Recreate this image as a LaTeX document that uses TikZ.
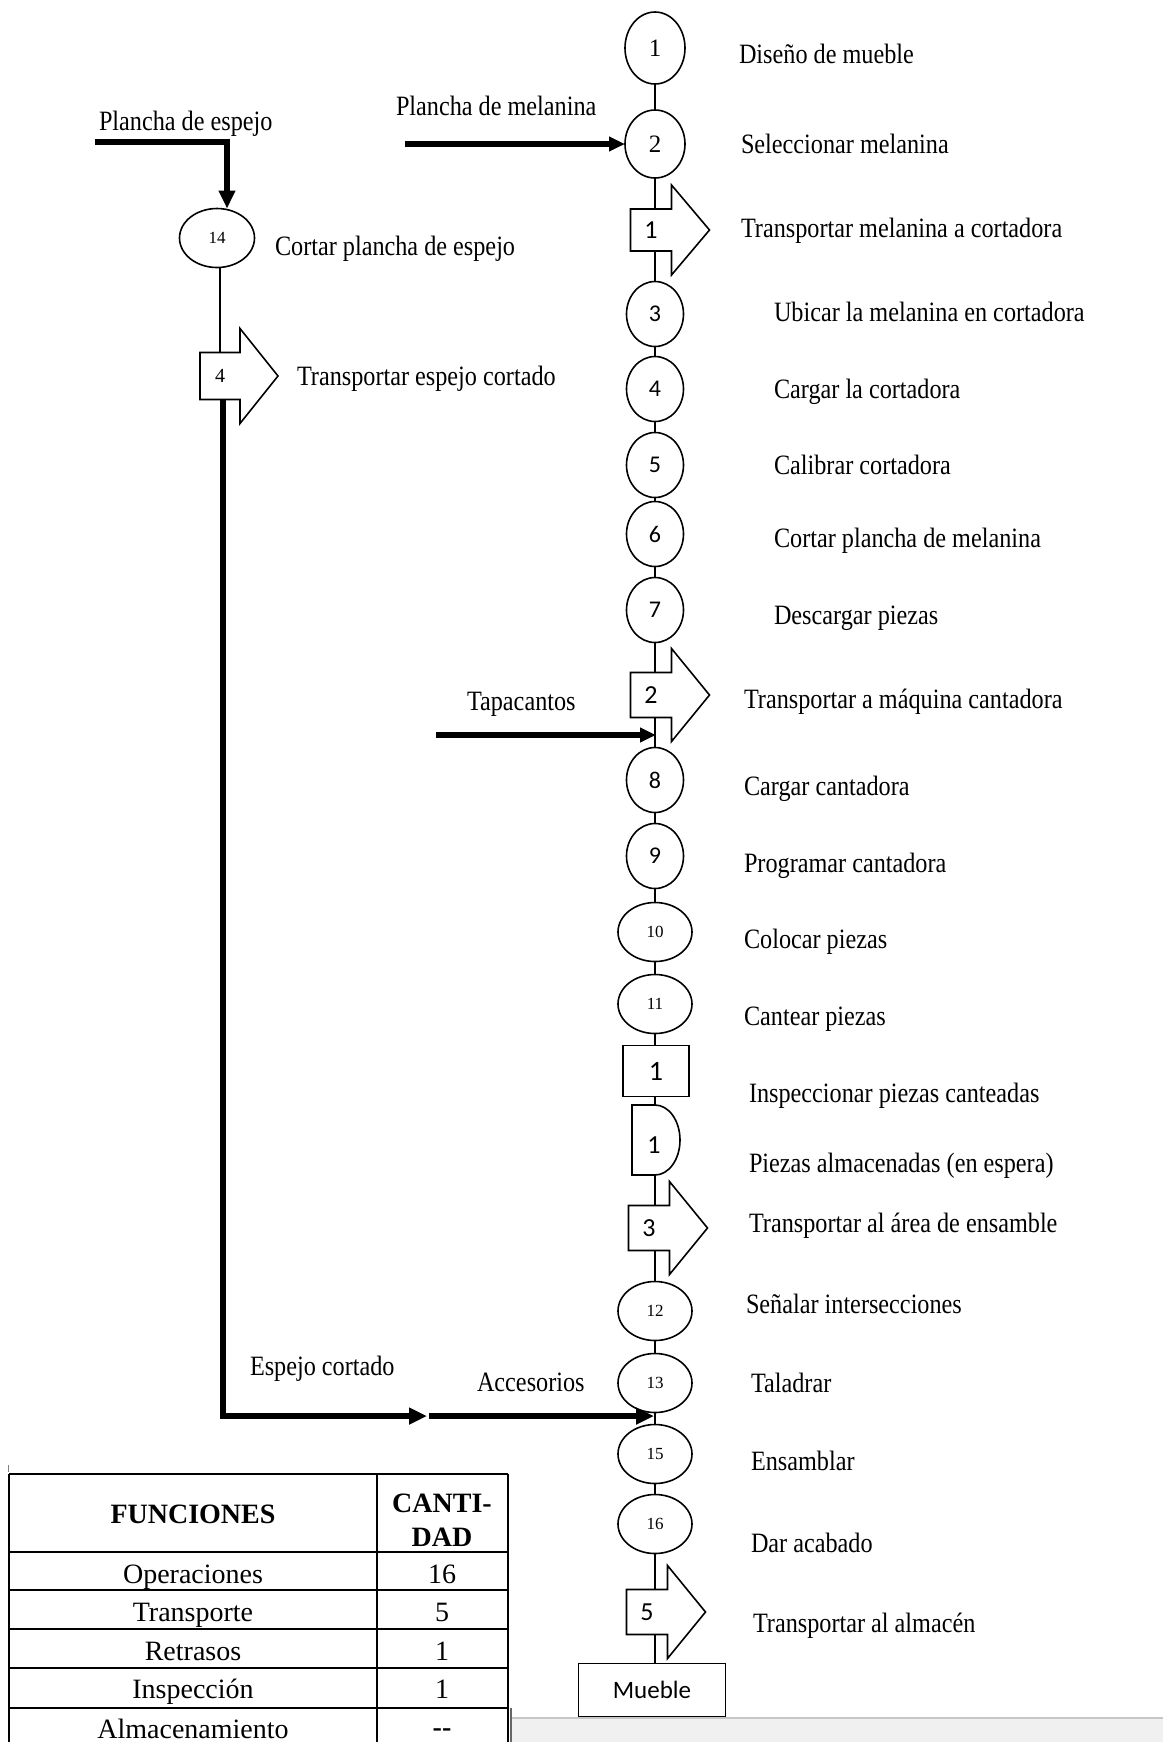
\documentclass[tikz,border=0pt]{standalone}
\usepackage{fontspec}
\setmainfont{Liberation Serif}[FakeStretch=0.865]
\newfontfamily\tabfont{Liberation Serif}
\newfontfamily\calfont{Carlito}
\usetikzlibrary{shapes.geometric,arrows.meta,calc}
\newcommand\transportoutline[1]{%
  \draw[line width=0.8pt,line join=miter]
    (#1.north west) -- (#1.north east) -- ([yshift=12pt]#1.north east) -- ([xshift=19pt]#1.east)
    -- ([yshift=-12pt]#1.south east) -- (#1.south east) -- (#1.south west) -- cycle;}
\begin{document}
\begin{tikzpicture}[x=0.5pt,y=-0.5pt,
  every node/.style={inner sep=0pt,outer sep=0pt},
  oper/.style={ellipse,draw,line width=0.8pt,fill=white,minimum width=28.5pt,minimum height=32.5pt,font=\calfont\fontsize{12}{12}\selectfont},
  operbig/.style={oper,minimum width=30pt,font=\tabfont\fontsize{12.5}{12.5}\selectfont},
  opersmall/.style={oper,minimum width=37pt,minimum height=29.5pt,font=\tabfont\fontsize{8.5}{8.5}\selectfont},
  tbody/.style={rectangle,minimum width=20.5pt,minimum height=22.5pt,font=\calfont\fontsize{13}{13}\selectfont},
  boxnode/.style={rectangle,draw,line width=0.8pt,fill=white},
  lbl/.style={anchor=base west,font=\fontsize{14}{14}\selectfont},
  tabtxt/.style={anchor=base,font=\tabfont\fontsize{14}{14}\selectfont},
  tabhead/.style={anchor=base,font=\tabfont\bfseries\fontsize{14}{14}\selectfont},
  conn/.style={line width=0.7pt},
  tabline/.style={line width=1pt},
  thickarrow/.style={line width=3pt,line join=miter,-{Triangle[length=9pt,width=8pt]}}
]
\useasboundingbox (0,0) rectangle (1163,1742);
\fill[white] (0,0) rectangle (1163,1742);

% ---------- main column ----------
\node[operbig,minimum height=36pt] (c1) at (655,48) {1};
\node[operbig,minimum height=34pt] (c2) at (655,144) {2};
\node[tbody,minimum height=21pt] (t1) at (651,230) {1};
\node[oper] (c3) at (655,314) {3};
\node[oper] (c4) at (655,389) {4};
\node[oper] (c5) at (655,465) {5};
\node[oper] (c6) at (655,534) {6};
\node[oper] (c7) at (655,610) {7};
\node[tbody] (t2) at (651,695) {2};
\node[oper] (c8) at (655,780) {8};
\node[oper] (c9) at (655,856) {9};
\node[opersmall] (c10) at (655,932) {10};
\node[opersmall] (c11) at (655,1004) {11};
\node[boxnode,minimum width=33pt,minimum height=25.5pt,font=\calfont\fontsize{14}{14}\selectfont] (insp) at (656,1071) {1};
\node[minimum width=24pt,minimum height=35pt] (delay) at (656,1140) {};
\node[tbody] (t3) at (649,1228) {3};
\node[opersmall] (c12) at (655,1311) {12};
\node[opersmall] (c13) at (655,1383) {13};
\node[opersmall] (c15) at (655,1454) {15};
\node[opersmall] (c16) at (655,1524) {16};
\node[tbody] (t5) at (647,1612) {5};
\node[boxnode,minimum width=73.5pt,minimum height=26.5pt,font=\calfont\fontsize{12.5}{12.5}\selectfont] (mueble) at (652,1690) {Mueble};

% delay shape
\draw[line width=0.8pt] (delay.south west) -- (delay.north west) -- ++(23,0)
  arc[start angle=90,end angle=-90,x radius=12.5pt,y radius=17.5pt] -- cycle;
\node[font=\calfont\fontsize{13}{13}\selectfont] (delaynum) at (654,1145) {1};

% transport outlines
\transportoutline{t1}
\transportoutline{t2}
\transportoutline{t3}
\transportoutline{t5}

% connectors of main column
\draw[conn] (c1.south) -- (c2.north);
\draw[conn] (c2.south) -- (c2.south |- t1.north);
\draw[conn] (c3.north |- t1.south) -- (c3.north);
\draw[conn] (c3.south) -- (c4.north);
\draw[conn] (c4.south) -- (c5.north);
\draw[conn] (c5.south) -- (c6.north);
\draw[conn] (c6.south) -- (c7.north);
\draw[conn] (c7.south) -- (c7.south |- t2.north);
\draw[conn] (c8.north |- t2.south) -- (c8.north);
\draw[conn] (c8.south) -- (c9.north);
\draw[conn] (c9.south) -- (c10.north);
\draw[conn] (c10.south) -- (c11.north);
\draw[conn] (c11.south) -- (c11.south |- insp.north);
\draw[conn] (c11.south |- insp.south) -- (c11.south |- delay.north);
\draw[conn] (c11.south |- delay.south) -- (c11.south |- t3.north);
\draw[conn] (c12.north |- t3.south) -- (c12.north);
\draw[conn] (c12.south) -- (c13.north);
\draw[conn] (c13.south) -- (c15.north);
\draw[conn] (c15.south) -- (c16.north);
\draw[conn] (c16.south) -- (c16.south |- t5.north);
\draw[conn] (c16.south |- t5.south) -- (c16.south |- mueble.north);

% labels of main column
\node[lbl] (lA) at (739,63) {Diseño de mueble};
\node[lbl] (lB) at (741,153) {Seleccionar melanina};
\node[lbl] (lC) at (741,237) {Transportar melanina a cortadora};
\node[lbl] (lD) at (774,321) {Ubicar la melanina en cortadora};
\node[lbl] (lE) at (774,398) {Cargar la cortadora};
\node[lbl] (lF) at (774,474) {Calibrar cortadora};
\node[lbl] (lG) at (774,547) {Cortar plancha de melanina};
\node[lbl] (lH) at (774,624) {Descargar piezas};
\node[lbl] (lI) at (744,708) {Transportar a máquina cantadora};
\node[lbl] (lJ) at (744,795) {Cargar cantadora};
\node[lbl] (lK) at (744,872) {Programar cantadora};
\node[lbl] (lL) at (744,948) {Colocar piezas};
\node[lbl] (lM) at (744,1025) {Cantear piezas};
\node[lbl] (lN) at (749,1102) {Inspeccionar piezas canteadas};
\node[lbl] (lO) at (749,1172) {Piezas almacenadas (en espera)};
\node[lbl] (lP) at (749,1232) {Transportar al área de ensamble};
\node[lbl] (lQ) at (746,1313) {Señalar intersecciones};
\node[lbl] (lR) at (751,1392) {Taladrar};
\node[lbl] (lS) at (751,1470) {Ensamblar};
\node[lbl] (lT) at (751,1552) {Dar acabado};
\node[lbl] (lU) at (753,1632) {Transportar al almacén};

% ---------- inputs ----------
\node[lbl] (pm) at (396,115) {Plancha de melanina};
\coordinate (pmstart) at (405,144);
\draw[thickarrow,-{Triangle[length=8pt,width=7pt]}] (pmstart) -- (c2.west);

\node[lbl] (tap) at (467,710) {Tapacantos};
\coordinate (tapstart) at (436,735);
\coordinate (tapend) at (656,735);
\draw[thickarrow,-{Triangle[length=8pt,width=7pt]}] (tapstart) -- (tapend);

% ---------- mirror branch ----------
\node[lbl] (pe) at (99,130) {Plancha de espejo};
\node[opersmall,minimum width=37.5pt] (c14) at (217,238) {14};
\node[lbl] (lc14) at (275,255) {Cortar plancha de espejo};
\coordinate (pestart) at (95,142);
\draw[thickarrow] (pestart) -| ([xshift=5pt]c14.north);

\node[tbody,minimum width=20pt,minimum height=23.5pt,font=\tabfont\fontsize{10}{10}\selectfont] (t4) at (220,376) {4};
\transportoutline{t4}
\node[lbl] (lt4) at (297,385) {Transportar espejo cortado};
\draw[conn] (t4.north |- c14.south) -- (t4.north);

\coordinate (ecend) at (427,1416);
\draw[thickarrow] ([xshift=1.5pt]t4.south) |- (ecend);
\node[lbl] (ec) at (250,1375) {Espejo cortado};

\coordinate (accstart) at (429,1416);
\coordinate (accend) at (654,1416);
\draw[thickarrow] (accstart) -- (accend);
\node[lbl] (acc) at (477,1391) {Accesorios};

% ---------- summary table ----------
\coordinate (tick1) at (8,1465);
\coordinate (tick2) at (8,1472);
\draw[line width=0.4pt,gray] (tick1) -- (tick2);
\draw[tabline] (9,1474) -- (508,1474);
\draw[tabline] (9,1552) -- (508,1552);
\draw[tabline] (9,1590) -- (508,1590);
\draw[tabline] (9,1629) -- (508,1629);
\draw[tabline] (9,1668) -- (508,1668);
\draw[tabline] (9,1708) -- (508,1708);
\draw[tabline] (9,1474) -- (9,1742);
\draw[tabline] (377,1474) -- (377,1742);
\draw[tabline] (508,1474) -- (508,1742);
\node[tabhead] (hf) at (193,1523) {FUNCIONES};
\node[tabhead] (hc1) at (442,1512) {CANTI-};
\node[tabhead] (hc2) at (442,1546) {DAD};
\node[tabtxt] (r1) at (193,1583) {Operaciones};
\node[tabtxt] (v1) at (442,1583) {16};
\node[tabtxt] (r2) at (193,1621) {Transporte};
\node[tabtxt] (v2) at (442,1621) {5};
\node[tabtxt] (r3) at (193,1660) {Retrasos};
\node[tabtxt] (v3) at (442,1660) {1};
\node[tabtxt] (r4) at (193,1698) {Inspección};
\node[tabtxt] (v4) at (442,1698) {1};
\node[tabtxt] (r5) at (193,1738) {Almacenamiento};
\node[tabtxt,font=\tabfont\bfseries\fontsize{14}{14}\selectfont] (v5) at (442,1736) {{-}{-}};

% ---------- grey band at the bottom ----------
\fill[black!6] (511,1718) rectangle (1163,1742);
\draw[black!22,line width=0.8pt] (511,1718) -- (1163,1718);
\draw[black!60,line width=0.6pt] (511,1708) -- (511,1742);
\end{tikzpicture}
\end{document}
